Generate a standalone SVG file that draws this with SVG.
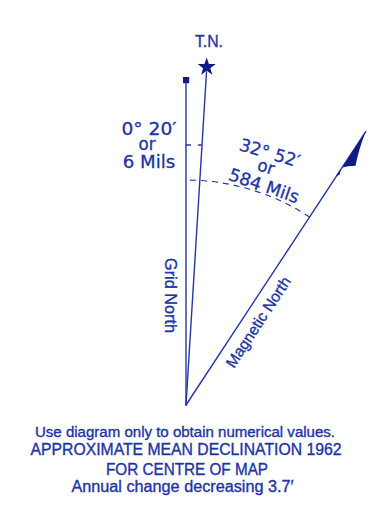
<svg xmlns="http://www.w3.org/2000/svg" width="371" height="528" viewBox="0 0 371 528">
<style>
.ln{stroke:#2636a6;stroke-width:1.4;fill:none;stroke-linecap:round}
.dash{stroke:#2636a6;stroke-width:1.2;fill:none;stroke-dasharray:6 5}
.ink{fill:#0f1a86}
.t{fill:#2233a3;stroke:#2233a3;stroke-width:0.35;font-family:"Liberation Sans",Arial,sans-serif}
.w{fill:#2233a3;stroke:#2233a3;stroke-width:0.3;font-family:"DejaVu Sans",sans-serif;font-size:17.5px}
</style>
<rect width="371" height="528" fill="#ffffff"/>
<g id="connectors">
  <line class="ln" x1="186" y1="83" x2="186" y2="405"/>
  <line class="ln" x1="186" y1="405" x2="206.5" y2="72"/>
  <line class="ln" x1="186" y1="405" x2="365.7" y2="131.7"/>
  <line class="ln" x1="186" y1="145" x2="201.7" y2="145" stroke-dasharray="4.5 8 4"/>
  <path class="dash" d="M190,180.05 A225,225 0 0 1 309.6,217"/>
</g>
<g id="grid-north">
  <rect class="ink" x="183" y="77" width="6.2" height="6.2"/>
  <text class="t" font-size="16" transform="translate(165,295.5) rotate(90)" text-anchor="middle" textLength="75" lengthAdjust="spacingAndGlyphs">Grid North</text>
</g>
<g id="true-north">
  <polygon class="ink" points="206.7,57.5 208.93,63.93 215.74,64.06 210.31,68.17 212.28,74.69 206.7,70.8 201.12,74.69 203.09,68.17 197.67,64.06 204.47,63.93"/>
  <text class="t" font-size="16" x="209" y="47" text-anchor="middle" textLength="28" lengthAdjust="spacingAndGlyphs">T.N.</text>
</g>
<g id="magnetic-north">
  <path class="ink" d="M365.7,131.5 L342.3,167.6 L348,166.2 L355.5,165.8 Q358.5,150 365.7,131.5 Z"/>
  <polygon class="ink" points="341,169 336,175.8 339.4,175"/>
  <text class="t" font-size="15.5" transform="translate(262.7,325) rotate(-56.7)" text-anchor="middle" textLength="105" lengthAdjust="spacingAndGlyphs">Magnetic North</text>
</g>
<g id="grid-declination">
  <text class="w" x="149" y="135" text-anchor="middle" textLength="55" lengthAdjust="spacingAndGlyphs">0° 20′</text>
  <text class="w" x="147" y="150" text-anchor="middle" textLength="17" lengthAdjust="spacingAndGlyphs">or</text>
  <text class="w" x="149" y="167.5" text-anchor="middle" textLength="52.5" lengthAdjust="spacingAndGlyphs">6 Mils</text>
</g>
<g id="magnetic-declination">
  <text class="w" transform="translate(268,158.7) rotate(16.5)" text-anchor="middle" textLength="62" lengthAdjust="spacingAndGlyphs">32° 52′</text>
  <text class="w" transform="translate(264.5,172.5) rotate(17)" text-anchor="middle" textLength="17" lengthAdjust="spacingAndGlyphs">or</text>
  <text class="w" transform="translate(262,191.5) rotate(19)" text-anchor="middle" textLength="73" lengthAdjust="spacingAndGlyphs">584 Mils</text>
</g>
<g id="notes">
  <text class="t" font-size="15.2" x="185" y="437.3" text-anchor="middle" textLength="300" lengthAdjust="spacingAndGlyphs">Use diagram only to obtain numerical values.</text>
  <text class="t" font-size="16" x="186" y="455" text-anchor="middle" textLength="311" lengthAdjust="spacingAndGlyphs">APPROXIMATE MEAN DECLINATION 1962</text>
  <text class="t" font-size="16" x="187" y="475" text-anchor="middle" textLength="162" lengthAdjust="spacingAndGlyphs">FOR CENTRE OF MAP</text>
  <text class="t" font-size="16" x="182.5" y="491.7" text-anchor="middle" textLength="222" lengthAdjust="spacingAndGlyphs">Annual change decreasing 3.7′</text>
</g>
</svg>
